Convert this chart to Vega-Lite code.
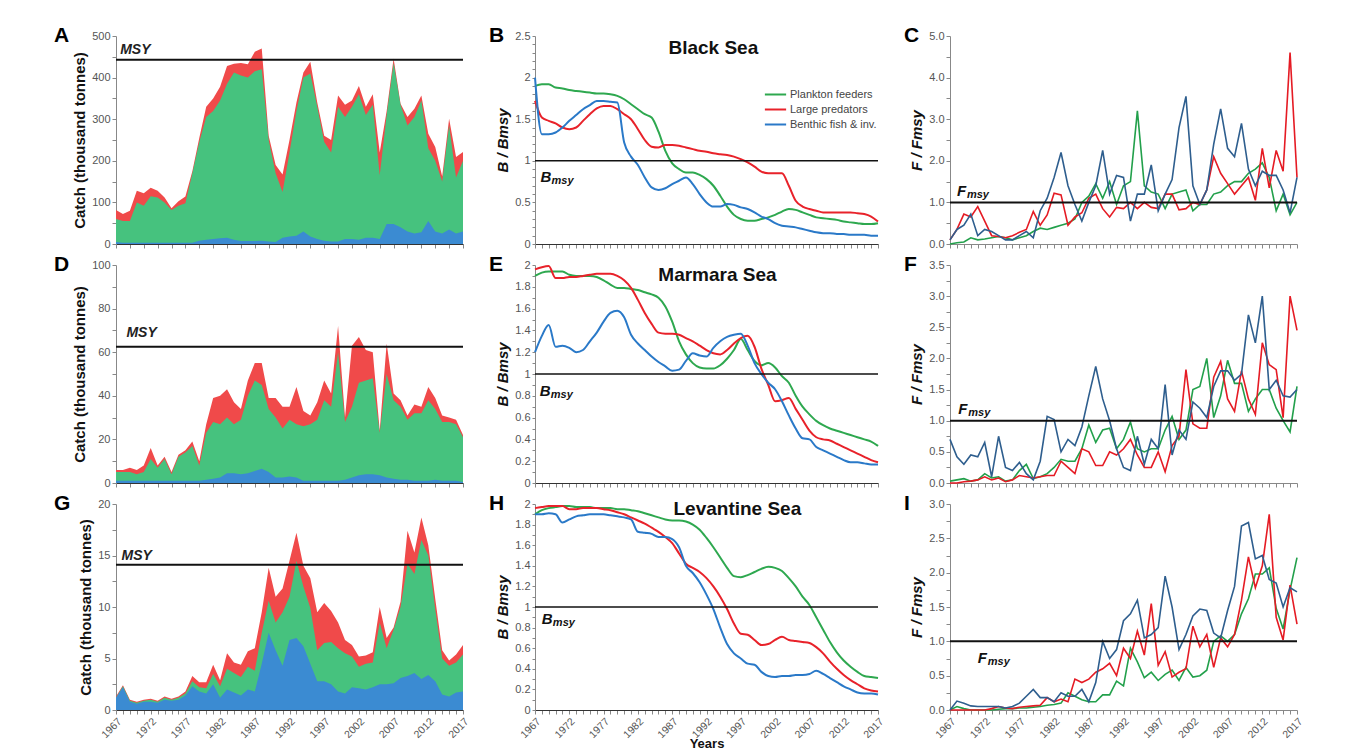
{
"$schema": "https://vega.github.io/schema/vega-lite/v6.json",
"background": "white",
"padding": {"left": 54, "top": 25, "right": 5, "bottom": 0},
"config": {
 "font": "Liberation Sans",
 "view": {"stroke": null},
 "axis": {"grid": false, "labelFont": "Liberation Sans", "labelFontSize": 11, "labelColor": "#555", "domainColor": "#888", "tickColor": "#888", "tickSize": 4, "titleFont": "Liberation Sans", "titleFontSize": 15, "titleFontWeight": "bold", "titleColor": "#111", "labelOverlap": false, "tickCount": 200},
 "title": {"font": "Liberation Sans", "fontSize": 21, "fontWeight": "bold", "color": "#000", "anchor": "start", "frame": "group", "offset": -16}
},
"datasets": {
"A": [
{"yr":1967,"r":82,"g":60,"b":5},{"yr":1968,"r":72,"g":55,"b":3},{"yr":1969,"r":80,"g":55,"b":3},{"yr":1970,"r":128,"g":100,"b":3},{"yr":1971,"r":122,"g":92,"b":3},{"yr":1972,"r":135,"g":115,"b":3},{"yr":1973,"r":128,"g":112,"b":3},{"yr":1974,"r":112,"g":100,"b":3},{"yr":1975,"r":86,"g":82,"b":3},{"yr":1976,"r":103,"g":92,"b":3},{"yr":1977,"r":114,"g":98,"b":3},{"yr":1978,"r":175,"g":170,"b":3},{"yr":1979,"r":255,"g":245,"b":8},{"yr":1980,"r":330,"g":305,"b":10},{"yr":1981,"r":350,"g":320,"b":12},{"yr":1982,"r":378,"g":345,"b":14},{"yr":1983,"r":428,"g":385,"b":15},{"yr":1984,"r":433,"g":412,"b":10},{"yr":1985,"r":435,"g":405,"b":7},{"yr":1986,"r":432,"g":400,"b":7},{"yr":1987,"r":462,"g":415,"b":7},{"yr":1988,"r":470,"g":420,"b":8},{"yr":1989,"r":260,"g":250,"b":6},{"yr":1990,"r":190,"g":170,"b":5},{"yr":1991,"r":167,"g":125,"b":15},{"yr":1992,"r":250,"g":220,"b":18},{"yr":1993,"r":340,"g":320,"b":20},{"yr":1994,"r":412,"g":400,"b":30},{"yr":1995,"r":438,"g":410,"b":18},{"yr":1996,"r":340,"g":330,"b":12},{"yr":1997,"r":260,"g":245,"b":8},{"yr":1998,"r":250,"g":220,"b":6},{"yr":1999,"r":357,"g":330,"b":6},{"yr":2000,"r":335,"g":305,"b":12},{"yr":2001,"r":345,"g":330,"b":12},{"yr":2002,"r":380,"g":360,"b":10},{"yr":2003,"r":330,"g":310,"b":15},{"yr":2004,"r":360,"g":335,"b":15},{"yr":2005,"r":220,"g":165,"b":12},{"yr":2006,"r":320,"g":310,"b":48},{"yr":2007,"r":446,"g":435,"b":48},{"yr":2008,"r":337,"g":335,"b":40},{"yr":2009,"r":305,"g":285,"b":30},{"yr":2010,"r":325,"g":305,"b":25},{"yr":2011,"r":357,"g":345,"b":28},{"yr":2012,"r":265,"g":230,"b":55},{"yr":2013,"r":233,"g":200,"b":30},{"yr":2014,"r":162,"g":150,"b":25},{"yr":2015,"r":301,"g":285,"b":35},{"yr":2016,"r":209,"g":160,"b":25},{"yr":2017,"r":221,"g":200,"b":30}
],
"D": [
{"yr":1967,"r":6,"g":5,"b":1},{"yr":1968,"r":6,"g":5,"b":1},{"yr":1969,"r":7,"g":5,"b":1},{"yr":1970,"r":6,"g":4,"b":1},{"yr":1971,"r":8,"g":5,"b":1},{"yr":1972,"r":16,"g":11,"b":1},{"yr":1973,"r":8,"g":7,"b":1},{"yr":1974,"r":12,"g":11,"b":1},{"yr":1975,"r":5,"g":4,"b":1},{"yr":1976,"r":13,"g":12,"b":1},{"yr":1977,"r":15,"g":14,"b":1},{"yr":1978,"r":19,"g":17,"b":1},{"yr":1979,"r":10,"g":8,"b":1},{"yr":1980,"r":27,"g":23,"b":1.5},{"yr":1981,"r":39,"g":28,"b":2},{"yr":1982,"r":40,"g":27,"b":2.5},{"yr":1983,"r":43,"g":30,"b":4.5},{"yr":1984,"r":37,"g":27,"b":4.5},{"yr":1985,"r":34,"g":29,"b":4},{"yr":1986,"r":47,"g":40,"b":4.5},{"yr":1987,"r":55,"g":47,"b":5.5},{"yr":1988,"r":55,"g":45,"b":6.5},{"yr":1989,"r":39,"g":34,"b":5},{"yr":1990,"r":39,"g":30,"b":2.5},{"yr":1991,"r":35,"g":25,"b":2.5},{"yr":1992,"r":35,"g":29,"b":3},{"yr":1993,"r":44,"g":27,"b":2.5},{"yr":1994,"r":33,"g":26,"b":1},{"yr":1995,"r":31,"g":27,"b":1},{"yr":1996,"r":37,"g":29,"b":1},{"yr":1997,"r":47,"g":38,"b":1},{"yr":1998,"r":41,"g":35,"b":1},{"yr":1999,"r":72,"g":60,"b":1},{"yr":2000,"r":30,"g":28,"b":1.5},{"yr":2001,"r":63,"g":35,"b":2.5},{"yr":2002,"r":67,"g":46,"b":3.5},{"yr":2003,"r":61,"g":47,"b":4},{"yr":2004,"r":60,"g":48,"b":4},{"yr":2005,"r":24,"g":23,"b":3.5},{"yr":2006,"r":64,"g":50,"b":2.5},{"yr":2007,"r":41,"g":38,"b":2},{"yr":2008,"r":38,"g":35,"b":1.5},{"yr":2009,"r":31,"g":29,"b":1.5},{"yr":2010,"r":36,"g":32,"b":1},{"yr":2011,"r":35,"g":32,"b":1},{"yr":2012,"r":44,"g":38,"b":1},{"yr":2013,"r":39,"g":34,"b":1.5},{"yr":2014,"r":31,"g":28,"b":1},{"yr":2015,"r":30,"g":28,"b":1},{"yr":2016,"r":29,"g":27,"b":1},{"yr":2017,"r":22,"g":21,"b":0.5}
],
"G": [
{"yr":1967,"r":1.3,"g":1.2,"b":1.2},{"yr":1968,"r":2.4,"g":2.3,"b":2.2},{"yr":1969,"r":1.0,"g":0.9,"b":0.8},{"yr":1970,"r":0.8,"g":0.7,"b":0.6},{"yr":1971,"r":1.0,"g":0.9,"b":0.8},{"yr":1972,"r":1.1,"g":1.0,"b":0.8},{"yr":1973,"r":0.9,"g":0.8,"b":0.7},{"yr":1974,"r":1.3,"g":1.2,"b":1.0},{"yr":1975,"r":1.1,"g":1.0,"b":0.9},{"yr":1976,"r":1.3,"g":1.2,"b":1.0},{"yr":1977,"r":1.8,"g":1.6,"b":1.4},{"yr":1978,"r":3.3,"g":2.8,"b":2.3},{"yr":1979,"r":2.7,"g":2.2,"b":1.8},{"yr":1980,"r":2.7,"g":2.1,"b":1.6},{"yr":1981,"r":4.4,"g":3.5,"b":2.5},{"yr":1982,"r":2.9,"g":2.3,"b":1.2},{"yr":1983,"r":5.5,"g":4.0,"b":2.0},{"yr":1984,"r":4.6,"g":3.6,"b":1.7},{"yr":1985,"r":4.4,"g":3.2,"b":1.4},{"yr":1986,"r":5.7,"g":4.2,"b":2.0},{"yr":1987,"r":6.0,"g":3.8,"b":1.8},{"yr":1988,"r":9.5,"g":7.5,"b":4.5},{"yr":1989,"r":13.8,"g":10.6,"b":7.5},{"yr":1990,"r":11.0,"g":8.5,"b":5.8},{"yr":1991,"r":11.8,"g":9.5,"b":4.3},{"yr":1992,"r":14.5,"g":11.0,"b":6.8},{"yr":1993,"r":17.2,"g":14.5,"b":7.0},{"yr":1994,"r":14.0,"g":12.0,"b":6.2},{"yr":1995,"r":12.8,"g":9.9,"b":4.5},{"yr":1996,"r":9.5,"g":5.8,"b":2.8},{"yr":1997,"r":10.4,"g":6.5,"b":2.8},{"yr":1998,"r":9.6,"g":6.6,"b":2.5},{"yr":1999,"r":8.5,"g":6.0,"b":1.8},{"yr":2000,"r":6.8,"g":5.5,"b":1.6},{"yr":2001,"r":6.3,"g":5.2,"b":2.2},{"yr":2002,"r":5.2,"g":4.2,"b":2.1},{"yr":2003,"r":5.3,"g":4.5,"b":2.0},{"yr":2004,"r":5.6,"g":4.6,"b":2.2},{"yr":2005,"r":10.0,"g":8.5,"b":2.5},{"yr":2006,"r":7.0,"g":6.0,"b":2.5},{"yr":2007,"r":8.0,"g":7.8,"b":2.6},{"yr":2008,"r":10.5,"g":10.0,"b":3.1},{"yr":2009,"r":17.4,"g":14.2,"b":3.3},{"yr":2010,"r":15.3,"g":13.2,"b":3.6},{"yr":2011,"r":18.7,"g":16.5,"b":3.0},{"yr":2012,"r":16.0,"g":15.0,"b":3.4},{"yr":2013,"r":10.8,"g":9.8,"b":2.8},{"yr":2014,"r":5.8,"g":5.0,"b":1.5},{"yr":2015,"r":4.8,"g":4.3,"b":1.3},{"yr":2016,"r":5.4,"g":4.6,"b":1.7},{"yr":2017,"r":6.3,"g":5.4,"b":1.8}
],
"B": [
{"yr":1967,"g":1.90,"r":1.72,"b":2.00},{"yr":1968,"g":1.92,"r":1.52,"b":1.32},{"yr":1969,"g":1.92,"r":1.48,"b":1.32},{"yr":1970,"g":1.88,"r":1.45,"b":1.34},{"yr":1971,"g":1.87,"r":1.40,"b":1.40},{"yr":1972,"g":1.85,"r":1.38,"b":1.48},{"yr":1973,"g":1.84,"r":1.40,"b":1.55},{"yr":1974,"g":1.83,"r":1.48,"b":1.62},{"yr":1975,"g":1.82,"r":1.56,"b":1.67},{"yr":1976,"g":1.81,"r":1.63,"b":1.72},{"yr":1977,"g":1.81,"r":1.66,"b":1.72},{"yr":1978,"g":1.80,"r":1.66,"b":1.71},{"yr":1979,"g":1.78,"r":1.62,"b":1.70},{"yr":1980,"g":1.74,"r":1.56,"b":1.22},{"yr":1981,"g":1.68,"r":1.50,"b":1.05},{"yr":1982,"g":1.62,"r":1.38,"b":0.95},{"yr":1983,"g":1.56,"r":1.25,"b":0.80},{"yr":1984,"g":1.52,"r":1.17,"b":0.68},{"yr":1985,"g":1.35,"r":1.16,"b":0.65},{"yr":1986,"g":1.12,"r":1.19,"b":0.67},{"yr":1987,"g":0.97,"r":1.19,"b":0.72},{"yr":1988,"g":0.90,"r":1.18,"b":0.76},{"yr":1989,"g":0.86,"r":1.16,"b":0.80},{"yr":1990,"g":0.86,"r":1.14,"b":0.72},{"yr":1991,"g":0.83,"r":1.12,"b":0.60},{"yr":1992,"g":0.78,"r":1.11,"b":0.50},{"yr":1993,"g":0.70,"r":1.09,"b":0.45},{"yr":1994,"g":0.58,"r":1.08,"b":0.45},{"yr":1995,"g":0.45,"r":1.07,"b":0.48},{"yr":1996,"g":0.35,"r":1.05,"b":0.47},{"yr":1997,"g":0.30,"r":1.02,"b":0.44},{"yr":1998,"g":0.28,"r":0.98,"b":0.42},{"yr":1999,"g":0.28,"r":0.93,"b":0.38},{"yr":2000,"g":0.30,"r":0.87,"b":0.33},{"yr":2001,"g":0.32,"r":0.85,"b":0.30},{"yr":2002,"g":0.35,"r":0.85,"b":0.25},{"yr":2003,"g":0.39,"r":0.85,"b":0.22},{"yr":2004,"g":0.42,"r":0.70,"b":0.21},{"yr":2005,"g":0.41,"r":0.52,"b":0.20},{"yr":2006,"g":0.38,"r":0.45,"b":0.18},{"yr":2007,"g":0.35,"r":0.42,"b":0.16},{"yr":2008,"g":0.32,"r":0.40,"b":0.14},{"yr":2009,"g":0.31,"r":0.38,"b":0.13},{"yr":2010,"g":0.30,"r":0.38,"b":0.13},{"yr":2011,"g":0.29,"r":0.38,"b":0.12},{"yr":2012,"g":0.27,"r":0.38,"b":0.12},{"yr":2013,"g":0.26,"r":0.38,"b":0.11},{"yr":2014,"g":0.25,"r":0.37,"b":0.11},{"yr":2015,"g":0.24,"r":0.36,"b":0.11},{"yr":2016,"g":0.24,"r":0.33,"b":0.10},{"yr":2017,"g":0.25,"r":0.27,"b":0.10}
],
"E": [
{"yr":1967,"g":1.90,"r":1.96,"b":1.20},{"yr":1968,"g":1.93,"r":1.98,"b":1.35},{"yr":1969,"g":1.94,"r":1.99,"b":1.45},{"yr":1970,"g":1.94,"r":1.88,"b":1.25},{"yr":1971,"g":1.94,"r":1.88,"b":1.26},{"yr":1972,"g":1.91,"r":1.89,"b":1.24},{"yr":1973,"g":1.90,"r":1.89,"b":1.20},{"yr":1974,"g":1.90,"r":1.90,"b":1.22},{"yr":1975,"g":1.90,"r":1.91,"b":1.30},{"yr":1976,"g":1.89,"r":1.92,"b":1.38},{"yr":1977,"g":1.86,"r":1.92,"b":1.48},{"yr":1978,"g":1.82,"r":1.92,"b":1.56},{"yr":1979,"g":1.79,"r":1.90,"b":1.58},{"yr":1980,"g":1.79,"r":1.86,"b":1.52},{"yr":1981,"g":1.78,"r":1.79,"b":1.36},{"yr":1982,"g":1.77,"r":1.68,"b":1.28},{"yr":1983,"g":1.75,"r":1.56,"b":1.22},{"yr":1984,"g":1.73,"r":1.46,"b":1.16},{"yr":1985,"g":1.70,"r":1.38,"b":1.11},{"yr":1986,"g":1.62,"r":1.37,"b":1.07},{"yr":1987,"g":1.48,"r":1.37,"b":1.03},{"yr":1988,"g":1.30,"r":1.36,"b":1.04},{"yr":1989,"g":1.18,"r":1.33,"b":1.12},{"yr":1990,"g":1.10,"r":1.30,"b":1.19},{"yr":1991,"g":1.06,"r":1.26,"b":1.17},{"yr":1992,"g":1.05,"r":1.22,"b":1.16},{"yr":1993,"g":1.05,"r":1.19,"b":1.24},{"yr":1994,"g":1.08,"r":1.18,"b":1.30},{"yr":1995,"g":1.14,"r":1.22,"b":1.34},{"yr":1996,"g":1.22,"r":1.28,"b":1.36},{"yr":1997,"g":1.32,"r":1.33,"b":1.37},{"yr":1998,"g":1.22,"r":1.35,"b":1.26},{"yr":1999,"g":1.12,"r":1.25,"b":1.10},{"yr":2000,"g":1.08,"r":1.05,"b":1.00},{"yr":2001,"g":1.10,"r":0.90,"b":0.92},{"yr":2002,"g":1.06,"r":0.75,"b":0.86},{"yr":2003,"g":0.98,"r":0.76,"b":0.75},{"yr":2004,"g":0.92,"r":0.78,"b":0.62},{"yr":2005,"g":0.80,"r":0.68,"b":0.50},{"yr":2006,"g":0.70,"r":0.58,"b":0.41},{"yr":2007,"g":0.63,"r":0.48,"b":0.40},{"yr":2008,"g":0.57,"r":0.42,"b":0.33},{"yr":2009,"g":0.53,"r":0.40,"b":0.30},{"yr":2010,"g":0.50,"r":0.39,"b":0.27},{"yr":2011,"g":0.48,"r":0.36,"b":0.24},{"yr":2012,"g":0.46,"r":0.33,"b":0.21},{"yr":2013,"g":0.44,"r":0.30,"b":0.19},{"yr":2014,"g":0.42,"r":0.27,"b":0.19},{"yr":2015,"g":0.40,"r":0.24,"b":0.18},{"yr":2016,"g":0.38,"r":0.21,"b":0.17},{"yr":2017,"g":0.34,"r":0.19,"b":0.17}
],
"H": [
{"yr":1967,"g":1.90,"r":1.96,"b":1.90},{"yr":1968,"g":1.94,"r":1.97,"b":1.90},{"yr":1969,"g":1.96,"r":1.98,"b":1.91},{"yr":1970,"g":1.97,"r":1.98,"b":1.90},{"yr":1971,"g":1.98,"r":1.98,"b":1.82},{"yr":1972,"g":1.98,"r":1.95,"b":1.85},{"yr":1973,"g":1.97,"r":1.95,"b":1.88},{"yr":1974,"g":1.97,"r":1.96,"b":1.89},{"yr":1975,"g":1.97,"r":1.96,"b":1.90},{"yr":1976,"g":1.96,"r":1.96,"b":1.90},{"yr":1977,"g":1.96,"r":1.95,"b":1.90},{"yr":1978,"g":1.96,"r":1.94,"b":1.89},{"yr":1979,"g":1.95,"r":1.92,"b":1.88},{"yr":1980,"g":1.95,"r":1.90,"b":1.87},{"yr":1981,"g":1.94,"r":1.87,"b":1.85},{"yr":1982,"g":1.93,"r":1.84,"b":1.73},{"yr":1983,"g":1.91,"r":1.81,"b":1.72},{"yr":1984,"g":1.89,"r":1.77,"b":1.71},{"yr":1985,"g":1.87,"r":1.73,"b":1.68},{"yr":1986,"g":1.85,"r":1.68,"b":1.68},{"yr":1987,"g":1.84,"r":1.62,"b":1.66},{"yr":1988,"g":1.84,"r":1.52,"b":1.58},{"yr":1989,"g":1.83,"r":1.42,"b":1.40},{"yr":1990,"g":1.80,"r":1.38,"b":1.33},{"yr":1991,"g":1.75,"r":1.34,"b":1.24},{"yr":1992,"g":1.67,"r":1.28,"b":1.12},{"yr":1993,"g":1.58,"r":1.20,"b":0.98},{"yr":1994,"g":1.48,"r":1.10,"b":0.80},{"yr":1995,"g":1.38,"r":0.98,"b":0.64},{"yr":1996,"g":1.30,"r":0.84,"b":0.55},{"yr":1997,"g":1.29,"r":0.74,"b":0.50},{"yr":1998,"g":1.31,"r":0.73,"b":0.45},{"yr":1999,"g":1.34,"r":0.68,"b":0.44},{"yr":2000,"g":1.37,"r":0.63,"b":0.37},{"yr":2001,"g":1.39,"r":0.64,"b":0.33},{"yr":2002,"g":1.38,"r":0.68,"b":0.32},{"yr":2003,"g":1.35,"r":0.71,"b":0.33},{"yr":2004,"g":1.28,"r":0.68,"b":0.33},{"yr":2005,"g":1.20,"r":0.67,"b":0.34},{"yr":2006,"g":1.10,"r":0.66,"b":0.34},{"yr":2007,"g":1.02,"r":0.65,"b":0.35},{"yr":2008,"g":0.90,"r":0.61,"b":0.38},{"yr":2009,"g":0.78,"r":0.55,"b":0.35},{"yr":2010,"g":0.66,"r":0.47,"b":0.31},{"yr":2011,"g":0.56,"r":0.40,"b":0.27},{"yr":2012,"g":0.48,"r":0.34,"b":0.23},{"yr":2013,"g":0.42,"r":0.29,"b":0.20},{"yr":2014,"g":0.37,"r":0.25,"b":0.17},{"yr":2015,"g":0.33,"r":0.21,"b":0.16},{"yr":2016,"g":0.32,"r":0.19,"b":0.16},{"yr":2017,"g":0.31,"r":0.18,"b":0.15}
],
"C": [
{"yr":1967,"g":0.00,"r":0.10,"b":0.10},{"yr":1968,"g":0.03,"r":0.35,"b":0.35},{"yr":1969,"g":0.05,"r":0.72,"b":0.45},{"yr":1970,"g":0.15,"r":0.65,"b":0.72},{"yr":1971,"g":0.10,"r":0.90,"b":0.20},{"yr":1972,"g":0.12,"r":0.55,"b":0.35},{"yr":1973,"g":0.15,"r":0.20,"b":0.30},{"yr":1974,"g":0.18,"r":0.18,"b":0.20},{"yr":1975,"g":0.15,"r":0.15,"b":0.10},{"yr":1976,"g":0.10,"r":0.20,"b":0.10},{"yr":1977,"g":0.15,"r":0.28,"b":0.20},{"yr":1978,"g":0.20,"r":0.35,"b":0.30},{"yr":1979,"g":0.30,"r":0.78,"b":0.15},{"yr":1980,"g":0.38,"r":0.45,"b":0.80},{"yr":1981,"g":0.35,"r":0.70,"b":1.10},{"yr":1982,"g":0.40,"r":1.22,"b":1.60},{"yr":1983,"g":0.45,"r":1.18,"b":2.20},{"yr":1984,"g":0.50,"r":0.45,"b":1.40},{"yr":1985,"g":0.60,"r":0.65,"b":0.95},{"yr":1986,"g":1.00,"r":0.75,"b":0.55},{"yr":1987,"g":1.15,"r":1.10,"b":1.00},{"yr":1988,"g":1.45,"r":1.20,"b":1.40},{"yr":1989,"g":1.10,"r":0.85,"b":2.25},{"yr":1990,"g":1.50,"r":0.65,"b":1.20},{"yr":1991,"g":0.95,"r":0.88,"b":1.65},{"yr":1992,"g":1.40,"r":0.85,"b":1.60},{"yr":1993,"g":1.50,"r":1.00,"b":0.55},{"yr":1994,"g":3.20,"r":0.85,"b":1.20},{"yr":1995,"g":1.40,"r":1.00,"b":1.20},{"yr":1996,"g":1.25,"r":0.88,"b":1.90},{"yr":1997,"g":1.20,"r":0.85,"b":0.80},{"yr":1998,"g":0.85,"r":1.20,"b":1.20},{"yr":1999,"g":1.20,"r":1.20,"b":1.55},{"yr":2000,"g":1.25,"r":0.82,"b":2.80},{"yr":2001,"g":1.30,"r":0.85,"b":3.55},{"yr":2002,"g":0.80,"r":1.00,"b":1.40},{"yr":2003,"g":0.95,"r":0.95,"b":0.95},{"yr":2004,"g":0.95,"r":1.30,"b":1.30},{"yr":2005,"g":1.20,"r":2.10,"b":2.40},{"yr":2006,"g":1.25,"r":1.70,"b":3.25},{"yr":2007,"g":1.40,"r":1.45,"b":2.30},{"yr":2008,"g":1.50,"r":1.20,"b":2.10},{"yr":2009,"g":1.50,"r":1.40,"b":2.90},{"yr":2010,"g":1.70,"r":1.60,"b":1.80},{"yr":2011,"g":1.80,"r":1.05,"b":1.40},{"yr":2012,"g":1.95,"r":2.30,"b":1.75},{"yr":2013,"g":1.60,"r":1.35,"b":1.65},{"yr":2014,"g":0.80,"r":2.25,"b":1.65},{"yr":2015,"g":1.20,"r":1.75,"b":1.30},{"yr":2016,"g":0.70,"r":4.60,"b":0.75},{"yr":2017,"g":1.00,"r":1.60,"b":1.60}
],
"F": [
{"yr":1967,"g":0.03,"r":0.00,"b":0.70},{"yr":1968,"g":0.05,"r":0.00,"b":0.42},{"yr":1969,"g":0.07,"r":0.02,"b":0.30},{"yr":1970,"g":0.03,"r":0.03,"b":0.45},{"yr":1971,"g":0.05,"r":0.05,"b":0.42},{"yr":1972,"g":0.15,"r":0.10,"b":0.65},{"yr":1973,"g":0.08,"r":0.05,"b":0.10},{"yr":1974,"g":0.10,"r":0.08,"b":0.75},{"yr":1975,"g":0.03,"r":0.02,"b":0.25},{"yr":1976,"g":0.05,"r":0.05,"b":0.20},{"yr":1977,"g":0.20,"r":0.12,"b":0.33},{"yr":1978,"g":0.30,"r":0.10,"b":0.15},{"yr":1979,"g":0.07,"r":0.08,"b":0.05},{"yr":1980,"g":0.10,"r":0.10,"b":0.35},{"yr":1981,"g":0.15,"r":0.12,"b":1.07},{"yr":1982,"g":0.25,"r":0.12,"b":1.02},{"yr":1983,"g":0.38,"r":0.35,"b":0.50},{"yr":1984,"g":0.35,"r":0.25,"b":0.70},{"yr":1985,"g":0.35,"r":0.15,"b":0.60},{"yr":1986,"g":0.55,"r":0.55,"b":0.90},{"yr":1987,"g":0.93,"r":0.50,"b":1.40},{"yr":1988,"g":0.65,"r":0.28,"b":1.87},{"yr":1989,"g":0.85,"r":0.28,"b":1.35},{"yr":1990,"g":0.88,"r":0.50,"b":1.00},{"yr":1991,"g":0.55,"r":0.45,"b":0.55},{"yr":1992,"g":0.70,"r":0.55,"b":0.25},{"yr":1993,"g":0.98,"r":0.70,"b":0.20},{"yr":1994,"g":0.55,"r":0.45,"b":0.75},{"yr":1995,"g":0.50,"r":0.25,"b":0.30},{"yr":1996,"g":0.55,"r":0.25,"b":0.70},{"yr":1997,"g":0.55,"r":0.50,"b":0.55},{"yr":1998,"g":0.85,"r":0.18,"b":1.58},{"yr":1999,"g":1.07,"r":0.60,"b":0.45},{"yr":2000,"g":0.70,"r":0.75,"b":0.85},{"yr":2001,"g":0.85,"r":1.82,"b":0.70},{"yr":2002,"g":1.50,"r":0.95,"b":1.30},{"yr":2003,"g":1.55,"r":0.88,"b":1.20},{"yr":2004,"g":2.00,"r":0.88,"b":1.05},{"yr":2005,"g":1.05,"r":1.70,"b":1.55},{"yr":2006,"g":1.40,"r":1.95,"b":1.80},{"yr":2007,"g":1.97,"r":1.35,"b":1.80},{"yr":2008,"g":1.60,"r":1.15,"b":1.65},{"yr":2009,"g":1.60,"r":1.80,"b":1.75},{"yr":2010,"g":1.15,"r":1.35,"b":2.70},{"yr":2011,"g":1.35,"r":1.10,"b":2.25},{"yr":2012,"g":1.50,"r":2.25,"b":3.00},{"yr":2013,"g":1.50,"r":1.90,"b":1.50},{"yr":2014,"g":1.20,"r":1.82,"b":1.65},{"yr":2015,"g":1.00,"r":1.05,"b":1.40},{"yr":2016,"g":0.82,"r":3.00,"b":1.38},{"yr":2017,"g":1.55,"r":2.45,"b":1.50}
],
"I": [
{"yr":1967,"g":0.00,"r":0.00,"b":0.00},{"yr":1968,"g":0.05,"r":0.00,"b":0.13},{"yr":1969,"g":0.02,"r":0.00,"b":0.10},{"yr":1970,"g":0.00,"r":0.00,"b":0.06},{"yr":1971,"g":0.00,"r":0.00,"b":0.05},{"yr":1972,"g":0.00,"r":0.00,"b":0.05},{"yr":1973,"g":0.00,"r":0.02,"b":0.05},{"yr":1974,"g":0.01,"r":0.05,"b":0.05},{"yr":1975,"g":0.02,"r":0.03,"b":0.03},{"yr":1976,"g":0.02,"r":0.02,"b":0.05},{"yr":1977,"g":0.03,"r":0.04,"b":0.10},{"yr":1978,"g":0.03,"r":0.05,"b":0.20},{"yr":1979,"g":0.04,"r":0.06,"b":0.30},{"yr":1980,"g":0.05,"r":0.07,"b":0.18},{"yr":1981,"g":0.07,"r":0.18,"b":0.18},{"yr":1982,"g":0.08,"r":0.12,"b":0.12},{"yr":1983,"g":0.10,"r":0.16,"b":0.25},{"yr":1984,"g":0.25,"r":0.12,"b":0.20},{"yr":1985,"g":0.20,"r":0.45,"b":0.20},{"yr":1986,"g":0.15,"r":0.40,"b":0.30},{"yr":1987,"g":0.12,"r":0.45,"b":0.12},{"yr":1988,"g":0.12,"r":0.55,"b":0.40},{"yr":1989,"g":0.22,"r":0.60,"b":1.00},{"yr":1990,"g":0.22,"r":0.68,"b":0.75},{"yr":1991,"g":0.42,"r":0.50,"b":0.88},{"yr":1992,"g":0.35,"r":0.90,"b":1.30},{"yr":1993,"g":0.90,"r":0.75,"b":1.40},{"yr":1994,"g":0.70,"r":1.15,"b":1.60},{"yr":1995,"g":0.47,"r":0.80,"b":1.05},{"yr":1996,"g":0.55,"r":1.55,"b":1.10},{"yr":1997,"g":0.43,"r":0.65,"b":1.20},{"yr":1998,"g":0.52,"r":0.85,"b":1.95},{"yr":1999,"g":0.58,"r":0.48,"b":1.50},{"yr":2000,"g":0.43,"r":0.55,"b":0.88},{"yr":2001,"g":0.62,"r":0.60,"b":1.10},{"yr":2002,"g":0.48,"r":1.22,"b":1.37},{"yr":2003,"g":0.50,"r":0.92,"b":1.47},{"yr":2004,"g":0.58,"r":1.10,"b":1.45},{"yr":2005,"g":1.00,"r":0.62,"b":1.12},{"yr":2006,"g":1.08,"r":1.05,"b":1.05},{"yr":2007,"g":1.00,"r":0.92,"b":1.45},{"yr":2008,"g":1.10,"r":1.10,"b":1.80},{"yr":2009,"g":1.40,"r":1.60,"b":2.68},{"yr":2010,"g":1.62,"r":2.23,"b":2.73},{"yr":2011,"g":1.98,"r":1.78,"b":2.20},{"yr":2012,"g":1.98,"r":2.10,"b":2.25},{"yr":2013,"g":2.07,"r":2.85,"b":1.90},{"yr":2014,"g":1.48,"r":1.35,"b":1.85},{"yr":2015,"g":1.18,"r":1.02,"b":1.50},{"yr":2016,"g":1.75,"r":1.82,"b":1.78},{"yr":2017,"g":2.22,"r":1.25,"b":1.72}
]
},
"columns": 3,
"spacing": {"row": 21, "column": 72},
"bounds": "flush",
"resolve": {"scale": {"color": "independent"}},
"concat": [
 {"width": 347, "height": 208, "title": {"text": "A", "dx": -62},
  "layer": [
   {"data": {"name": "A"}, "mark": {"type": "area", "color": "#f04a4a"},
    "encoding": {"x": {"field": "yr", "type": "quantitative", "scale": {"domain": [1967, 2017], "nice": false, "zero": false}, "axis": {"values": [1967,1969,1971,1973,1975,1977,1979,1981,1983,1985,1987,1989,1991,1993,1995,1997,1999,2001,2003,2005,2007,2009,2011,2013,2015,2017], "tickCount": 200, "labels": false, "title": null, "domainColor": "#333", "labelOverlap": false}},
     "y": {"field": "r", "type": "quantitative", "scale": {"domain": [0, 500], "nice": false}, "axis": {"values": [0,50,100,150,200,250,300,350,400,450,500], "tickCount": 200, "format": "d", "labelExpr": "datum.value % 100 == 0 ? datum.label : ''", "title": "Catch (thousand tonnes)", "labelOverlap": false}}}},
   {"data": {"name": "A"}, "mark": {"type": "area", "color": "#46c27e"}, "encoding": {"x": {"field": "yr", "type": "quantitative"}, "y": {"field": "g", "type": "quantitative", "title": "Catch (thousand tonnes)"}}},
   {"data": {"name": "A"}, "mark": {"type": "area", "color": "#3b8bd2"}, "encoding": {"x": {"field": "yr", "type": "quantitative"}, "y": {"field": "b", "type": "quantitative", "title": "Catch (thousand tonnes)"}}},
   {"data": {"values": [{}]}, "mark": {"type": "rule", "color": "#111", "strokeWidth": 2}, "encoding": {"y": {"datum": 443}}},
   {"data": {"values": [{}]}, "mark": {"type": "text", "text": "MSY", "fontSize": 14, "fontWeight": "bold", "fontStyle": "italic", "align": "left", "baseline": "middle", "color": "#222"}, "encoding": {"x": {"datum": 1967.6}, "y": {"datum": 466}}}
  ]},
 {"width": 343, "height": 208, "title": {"text": "B", "dx": -46},
  "layer": [
   {"data": {"name": "B"}, "transform": [{"fold": ["g", "r", "b"], "as": ["s", "v"]}],
    "mark": {"type": "line", "strokeWidth": 2, "interpolate": "monotone"},
    "encoding": {"x": {"field": "yr", "type": "quantitative", "scale": {"domain": [1967, 2017], "nice": false, "zero": false}, "axis": {"values": [1967,1968,1969,1970,1971,1972,1973,1974,1975,1976,1977,1978,1979,1980,1981,1982,1983,1984,1985,1986,1987,1988,1989,1990,1991,1992,1993,1994,1995,1996,1997,1998,1999,2000,2001,2002,2003,2004,2005,2006,2007,2008,2009,2010,2011,2012,2013,2014,2015,2016,2017], "tickCount": 200, "labels": false, "title": null, "domainColor": "#333", "labelOverlap": false}},
     "y": {"field": "v", "type": "quantitative", "scale": {"domain": [0, 2.5], "nice": false}, "axis": {"values": [0,0.1,0.2,0.3,0.4,0.5,0.6,0.7,0.8,0.9,1,1.1,1.2,1.3,1.4,1.5,1.6,1.7,1.8,1.9,2,2.1,2.2,2.3,2.4,2.5], "tickCount": 200, "format": "~g", "labelExpr": "abs(datum.value*2 - round(datum.value*2)) < 0.001 ? datum.label : ''", "title": "B / Bmsy", "titleFontStyle": "italic", "tickSize": 3, "labelOverlap": false}},
     "color": {"field": "s", "type": "nominal", "scale": {"domain": ["g", "r", "b"], "range": ["#2ea84f", "#e8222a", "#2a79c8"]},
      "legend": {"orient": "none", "legendX": 231, "legendY": 49, "title": null, "symbolType": "M-1.25,0H1.25", "symbolSize": 289, "symbolStrokeWidth": 2, "labelFontSize": 11, "labelColor": "#444", "rowPadding": 0, "labelOffset": 5, "labelExpr": "datum.label == 'g' ? 'Plankton feeders' : datum.label == 'r' ? 'Large predators' : 'Benthic fish & inv.'"}}}},
   {"data": {"values": [{}]}, "mark": {"type": "rule", "color": "#111", "strokeWidth": 1.5}, "encoding": {"y": {"datum": 1}}},
   {"data": {"values": [{}]}, "mark": {"type": "text", "text": "Black Sea", "fontSize": 19, "fontWeight": "bold", "align": "center", "baseline": "middle", "color": "#111"}, "encoding": {"x": {"datum": 1993}, "y": {"datum": 2.36}}},
   {"data": {"values": [{}]}, "mark": {"type": "text", "text": "B", "fontSize": 15, "fontWeight": "bold", "fontStyle": "italic", "align": "left", "baseline": "middle", "color": "#111"}, "encoding": {"x": {"datum": 1967.8}, "y": {"datum": 0.81}}},
   {"data": {"values": [{}]}, "mark": {"type": "text", "text": "msy", "fontSize": 11, "fontWeight": "bold", "fontStyle": "italic", "align": "left", "baseline": "middle", "dx": 11, "dy": 4, "color": "#111"}, "encoding": {"x": {"datum": 1967.8}, "y": {"datum": 0.81}}}
  ]},
 {"width": 347, "height": 208, "title": {"text": "C", "dx": -46},
  "layer": [
   {"data": {"name": "C"}, "transform": [{"fold": ["g", "r", "b"], "as": ["s", "v"]}],
    "mark": {"type": "line", "strokeWidth": 1.6},
    "encoding": {"x": {"field": "yr", "type": "quantitative", "scale": {"domain": [1967, 2017], "nice": false, "zero": false}, "axis": {"values": [1967,1968,1969,1970,1971,1972,1973,1974,1975,1976,1977,1978,1979,1980,1981,1982,1983,1984,1985,1986,1987,1988,1989,1990,1991,1992,1993,1994,1995,1996,1997,1998,1999,2000,2001,2002,2003,2004,2005,2006,2007,2008,2009,2010,2011,2012,2013,2014,2015,2016,2017], "tickCount": 200, "labels": false, "title": null, "labelOverlap": false}},
     "y": {"field": "v", "type": "quantitative", "scale": {"domain": [0, 5], "nice": false}, "axis": {"values": [0,0.5,1,1.5,2,2.5,3,3.5,4,4.5,5], "tickCount": 200, "format": ".1f", "labelExpr": "abs(datum.value - round(datum.value)) < 0.001 ? datum.label : ''", "title": "F / Fmsy", "titleFontStyle": "italic", "labelOverlap": false}},
     "color": {"field": "s", "type": "nominal", "scale": {"domain": ["g", "r", "b"], "range": ["#22a04b", "#e51b24", "#2e5e8e"]}, "legend": null}}},
   {"data": {"values": [{}]}, "mark": {"type": "rule", "color": "#111", "strokeWidth": 2}, "encoding": {"y": {"datum": 1}}},
   {"data": {"values": [{}]}, "mark": {"type": "text", "text": "F", "fontSize": 15, "fontWeight": "bold", "fontStyle": "italic", "align": "left", "baseline": "middle", "color": "#111"}, "encoding": {"x": {"datum": 1968}, "y": {"datum": 1.28}}},
   {"data": {"values": [{}]}, "mark": {"type": "text", "text": "msy", "fontSize": 11, "fontWeight": "bold", "fontStyle": "italic", "align": "left", "baseline": "middle", "dx": 10, "dy": 4, "color": "#111"}, "encoding": {"x": {"datum": 1968}, "y": {"datum": 1.28}}}
  ]},
 {"width": 347, "height": 218, "title": {"text": "D", "dx": -62},
  "layer": [
   {"data": {"name": "D"}, "mark": {"type": "area", "color": "#f04a4a"},
    "encoding": {"x": {"field": "yr", "type": "quantitative", "scale": {"domain": [1967, 2017], "nice": false, "zero": false}, "axis": {"values": [1967,1969,1971,1973,1975,1977,1979,1981,1983,1985,1987,1989,1991,1993,1995,1997,1999,2001,2003,2005,2007,2009,2011,2013,2015,2017], "tickCount": 200, "labels": false, "title": null, "domainColor": "#333", "labelOverlap": false}},
     "y": {"field": "r", "type": "quantitative", "scale": {"domain": [0, 100], "nice": false}, "axis": {"values": [0,10,20,30,40,50,60,70,80,90,100], "tickCount": 200, "format": "d", "labelExpr": "datum.value % 20 == 0 ? datum.label : ''", "title": "Catch (thousand tonnes)", "labelOverlap": false}}}},
   {"data": {"name": "D"}, "mark": {"type": "area", "color": "#46c27e"}, "encoding": {"x": {"field": "yr", "type": "quantitative"}, "y": {"field": "g", "type": "quantitative", "title": "Catch (thousand tonnes)"}}},
   {"data": {"name": "D"}, "mark": {"type": "area", "color": "#3b8bd2"}, "encoding": {"x": {"field": "yr", "type": "quantitative"}, "y": {"field": "b", "type": "quantitative", "title": "Catch (thousand tonnes)"}}},
   {"data": {"values": [{}]}, "mark": {"type": "rule", "color": "#111", "strokeWidth": 2}, "encoding": {"y": {"datum": 62.5}}},
   {"data": {"values": [{}]}, "mark": {"type": "text", "text": "MSY", "fontSize": 14, "fontWeight": "bold", "fontStyle": "italic", "align": "left", "baseline": "middle", "color": "#222"}, "encoding": {"x": {"datum": 1968.5}, "y": {"datum": 68.8}}}
  ]},
 {"width": 343, "height": 218, "title": {"text": "E", "dx": -46},
  "layer": [
   {"data": {"name": "E"}, "transform": [{"fold": ["g", "r", "b"], "as": ["s", "v"]}],
    "mark": {"type": "line", "strokeWidth": 2, "interpolate": "monotone"},
    "encoding": {"x": {"field": "yr", "type": "quantitative", "scale": {"domain": [1967, 2017], "nice": false, "zero": false}, "axis": {"values": [1967,1968,1969,1970,1971,1972,1973,1974,1975,1976,1977,1978,1979,1980,1981,1982,1983,1984,1985,1986,1987,1988,1989,1990,1991,1992,1993,1994,1995,1996,1997,1998,1999,2000,2001,2002,2003,2004,2005,2006,2007,2008,2009,2010,2011,2012,2013,2014,2015,2016,2017], "tickCount": 200, "labels": false, "title": null, "domainColor": "#333", "labelOverlap": false}},
     "y": {"field": "v", "type": "quantitative", "scale": {"domain": [0, 2], "nice": false}, "axis": {"values": [0,0.1,0.2,0.3,0.4,0.5,0.6,0.7,0.8,0.9,1,1.1,1.2,1.3,1.4,1.5,1.6,1.7,1.8,1.9,2], "tickCount": 200, "format": "~g", "labelExpr": "abs(datum.value*5 - round(datum.value*5)) < 0.001 ? datum.label : ''", "title": "B / Bmsy", "titleFontStyle": "italic", "tickSize": 3, "labelOverlap": false}},
     "color": {"field": "s", "type": "nominal", "scale": {"domain": ["g", "r", "b"], "range": ["#2ea84f", "#e8222a", "#2a79c8"]}, "legend": null}}},
   {"data": {"values": [{}]}, "mark": {"type": "rule", "color": "#111", "strokeWidth": 1.5}, "encoding": {"y": {"datum": 1}}},
   {"data": {"values": [{}]}, "mark": {"type": "text", "text": "Marmara Sea", "fontSize": 19, "fontWeight": "bold", "align": "center", "baseline": "middle", "color": "#111"}, "encoding": {"x": {"datum": 1993.6}, "y": {"datum": 1.91}}},
   {"data": {"values": [{}]}, "mark": {"type": "text", "text": "B", "fontSize": 15, "fontWeight": "bold", "fontStyle": "italic", "align": "left", "baseline": "middle", "color": "#111"}, "encoding": {"x": {"datum": 1967.7}, "y": {"datum": 0.84}}},
   {"data": {"values": [{}]}, "mark": {"type": "text", "text": "msy", "fontSize": 11, "fontWeight": "bold", "fontStyle": "italic", "align": "left", "baseline": "middle", "dx": 11, "dy": 4, "color": "#111"}, "encoding": {"x": {"datum": 1967.7}, "y": {"datum": 0.84}}}
  ]},
 {"width": 347, "height": 218, "title": {"text": "F", "dx": -46},
  "layer": [
   {"data": {"name": "F"}, "transform": [{"fold": ["g", "r", "b"], "as": ["s", "v"]}],
    "mark": {"type": "line", "strokeWidth": 1.6},
    "encoding": {"x": {"field": "yr", "type": "quantitative", "scale": {"domain": [1967, 2017], "nice": false, "zero": false}, "axis": {"values": [1967,1968,1969,1970,1971,1972,1973,1974,1975,1976,1977,1978,1979,1980,1981,1982,1983,1984,1985,1986,1987,1988,1989,1990,1991,1992,1993,1994,1995,1996,1997,1998,1999,2000,2001,2002,2003,2004,2005,2006,2007,2008,2009,2010,2011,2012,2013,2014,2015,2016,2017], "tickCount": 200, "labels": false, "title": null, "labelOverlap": false}},
     "y": {"field": "v", "type": "quantitative", "scale": {"domain": [0, 3.5], "nice": false}, "axis": {"values": [0,0.25,0.5,0.75,1,1.25,1.5,1.75,2,2.25,2.5,2.75,3,3.25,3.5], "tickCount": 200, "format": ".1f", "labelExpr": "abs(datum.value*2 - round(datum.value*2)) < 0.001 ? datum.label : ''", "title": "F / Fmsy", "titleFontStyle": "italic", "labelOverlap": false}},
     "color": {"field": "s", "type": "nominal", "scale": {"domain": ["g", "r", "b"], "range": ["#22a04b", "#e51b24", "#2e5e8e"]}, "legend": null}}},
   {"data": {"values": [{}]}, "mark": {"type": "rule", "color": "#111", "strokeWidth": 2}, "encoding": {"y": {"datum": 1}}},
   {"data": {"values": [{}]}, "mark": {"type": "text", "text": "F", "fontSize": 15, "fontWeight": "bold", "fontStyle": "italic", "align": "left", "baseline": "middle", "color": "#111"}, "encoding": {"x": {"datum": 1968.2}, "y": {"datum": 1.19}}},
   {"data": {"values": [{}]}, "mark": {"type": "text", "text": "msy", "fontSize": 11, "fontWeight": "bold", "fontStyle": "italic", "align": "left", "baseline": "middle", "dx": 10, "dy": 4, "color": "#111"}, "encoding": {"x": {"datum": 1968.2}, "y": {"datum": 1.19}}}
  ]},
 {"width": 347, "height": 206, "title": {"text": "G", "dx": -62},
  "layer": [
   {"data": {"name": "G"}, "mark": {"type": "area", "color": "#f04a4a"},
    "encoding": {"x": {"field": "yr", "type": "quantitative", "scale": {"domain": [1967, 2017], "nice": false, "zero": false}, "axis": {"values": [1967,1968,1969,1970,1971,1972,1973,1974,1975,1976,1977,1978,1979,1980,1981,1982,1983,1984,1985,1986,1987,1988,1989,1990,1991,1992,1993,1994,1995,1996,1997,1998,1999,2000,2001,2002,2003,2004,2005,2006,2007,2008,2009,2010,2011,2012,2013,2014,2015,2016,2017], "tickCount": 200, "format": "d", "labelExpr": "(datum.value - 1967) % 5 == 0 ? datum.label : ''", "labelAngle": -45, "labelFontSize": 10.5, "title": null, "domainColor": "#333", "labelOverlap": false}},
     "y": {"field": "r", "type": "quantitative", "scale": {"domain": [0, 20], "nice": false}, "axis": {"values": [0,2.5,5,7.5,10,12.5,15,17.5,20], "tickCount": 200, "format": "d", "labelExpr": "datum.value % 5 == 0 ? datum.label : ''", "title": "Catch (thousand tonnes)", "labelOverlap": false}}}},
   {"data": {"name": "G"}, "mark": {"type": "area", "color": "#46c27e"}, "encoding": {"x": {"field": "yr", "type": "quantitative"}, "y": {"field": "g", "type": "quantitative", "title": "Catch (thousand tonnes)"}}},
   {"data": {"name": "G"}, "mark": {"type": "area", "color": "#3b8bd2"}, "encoding": {"x": {"field": "yr", "type": "quantitative"}, "y": {"field": "b", "type": "quantitative", "title": "Catch (thousand tonnes)"}}},
   {"data": {"values": [{}]}, "mark": {"type": "rule", "color": "#111", "strokeWidth": 2}, "encoding": {"y": {"datum": 14.1}}},
   {"data": {"values": [{}]}, "mark": {"type": "text", "text": "MSY", "fontSize": 14, "fontWeight": "bold", "fontStyle": "italic", "align": "left", "baseline": "middle", "color": "#222"}, "encoding": {"x": {"datum": 1967.8}, "y": {"datum": 15.0}}}
  ]},
 {"width": 343, "height": 206, "title": {"text": "H", "dx": -46},
  "layer": [
   {"data": {"name": "H"}, "transform": [{"fold": ["g", "r", "b"], "as": ["s", "v"]}],
    "mark": {"type": "line", "strokeWidth": 2, "interpolate": "monotone"},
    "encoding": {"x": {"field": "yr", "type": "quantitative", "scale": {"domain": [1967, 2017], "nice": false, "zero": false}, "axis": {"values": [1967,1968,1969,1970,1971,1972,1973,1974,1975,1976,1977,1978,1979,1980,1981,1982,1983,1984,1985,1986,1987,1988,1989,1990,1991,1992,1993,1994,1995,1996,1997,1998,1999,2000,2001,2002,2003,2004,2005,2006,2007,2008,2009,2010,2011,2012,2013,2014,2015,2016,2017], "tickCount": 200, "format": "d", "labelExpr": "(datum.value - 1967) % 5 == 0 ? datum.label : ''", "labelAngle": -45, "labelFontSize": 10.5, "title": "Years", "titleFontSize": 13, "titlePadding": -2, "domainColor": "#333", "labelOverlap": false}},
     "y": {"field": "v", "type": "quantitative", "scale": {"domain": [0, 2], "nice": false}, "axis": {"values": [0,0.1,0.2,0.3,0.4,0.5,0.6,0.7,0.8,0.9,1,1.1,1.2,1.3,1.4,1.5,1.6,1.7,1.8,1.9,2], "tickCount": 200, "format": "~g", "labelExpr": "abs(datum.value*5 - round(datum.value*5)) < 0.001 ? datum.label : ''", "title": "B / Bmsy", "titleFontStyle": "italic", "tickSize": 3, "labelOverlap": false}},
     "color": {"field": "s", "type": "nominal", "scale": {"domain": ["g", "r", "b"], "range": ["#2ea84f", "#e8222a", "#2a79c8"]}, "legend": null}}},
   {"data": {"values": [{}]}, "mark": {"type": "rule", "color": "#111", "strokeWidth": 1.5}, "encoding": {"y": {"datum": 1}}},
   {"data": {"values": [{}]}, "mark": {"type": "text", "text": "Levantine Sea", "fontSize": 19, "fontWeight": "bold", "align": "center", "baseline": "middle", "color": "#111"}, "encoding": {"x": {"datum": 1996.5}, "y": {"datum": 1.95}}},
   {"data": {"values": [{}]}, "mark": {"type": "text", "text": "B", "fontSize": 15, "fontWeight": "bold", "fontStyle": "italic", "align": "left", "baseline": "middle", "color": "#111"}, "encoding": {"x": {"datum": 1968}, "y": {"datum": 0.88}}},
   {"data": {"values": [{}]}, "mark": {"type": "text", "text": "msy", "fontSize": 11, "fontWeight": "bold", "fontStyle": "italic", "align": "left", "baseline": "middle", "dx": 11, "dy": 4, "color": "#111"}, "encoding": {"x": {"datum": 1968}, "y": {"datum": 0.88}}}
  ]},
 {"width": 347, "height": 206, "title": {"text": "I", "dx": -46},
  "layer": [
   {"data": {"name": "I"}, "transform": [{"fold": ["g", "r", "b"], "as": ["s", "v"]}],
    "mark": {"type": "line", "strokeWidth": 1.6},
    "encoding": {"x": {"field": "yr", "type": "quantitative", "scale": {"domain": [1967, 2017], "nice": false, "zero": false}, "axis": {"values": [1967,1968,1969,1970,1971,1972,1973,1974,1975,1976,1977,1978,1979,1980,1981,1982,1983,1984,1985,1986,1987,1988,1989,1990,1991,1992,1993,1994,1995,1996,1997,1998,1999,2000,2001,2002,2003,2004,2005,2006,2007,2008,2009,2010,2011,2012,2013,2014,2015,2016,2017], "tickCount": 200, "format": "d", "labelExpr": "(datum.value - 1967) % 5 == 0 ? datum.label : ''", "labelAngle": -45, "labelFontSize": 10.5, "title": null, "labelOverlap": false}},
     "y": {"field": "v", "type": "quantitative", "scale": {"domain": [0, 3], "nice": false}, "axis": {"values": [0,0.25,0.5,0.75,1,1.25,1.5,1.75,2,2.25,2.5,2.75,3], "tickCount": 200, "format": ".1f", "labelExpr": "abs(datum.value*2 - round(datum.value*2)) < 0.001 ? datum.label : ''", "title": "F / Fmsy", "titleFontStyle": "italic", "labelOverlap": false}},
     "color": {"field": "s", "type": "nominal", "scale": {"domain": ["g", "r", "b"], "range": ["#22a04b", "#e51b24", "#2e5e8e"]}, "legend": null}}},
   {"data": {"values": [{}]}, "mark": {"type": "rule", "color": "#111", "strokeWidth": 2}, "encoding": {"y": {"datum": 1}}},
   {"data": {"values": [{}]}, "mark": {"type": "text", "text": "F", "fontSize": 15, "fontWeight": "bold", "fontStyle": "italic", "align": "left", "baseline": "middle", "color": "#111"}, "encoding": {"x": {"datum": 1971}, "y": {"datum": 0.76}}},
   {"data": {"values": [{}]}, "mark": {"type": "text", "text": "msy", "fontSize": 11, "fontWeight": "bold", "fontStyle": "italic", "align": "left", "baseline": "middle", "dx": 10, "dy": 4, "color": "#111"}, "encoding": {"x": {"datum": 1971}, "y": {"datum": 0.76}}}
  ]}
]
}
